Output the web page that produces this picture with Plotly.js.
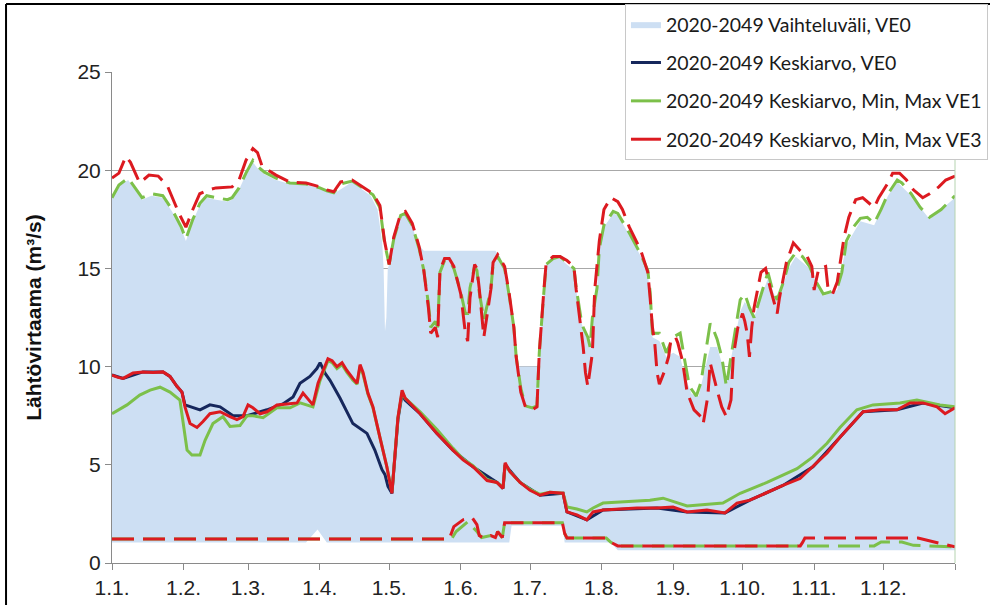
<!DOCTYPE html>
<html>
<head>
<meta charset="utf-8">
<script src="https://cdn.plot.ly/plotly-3.0.1.min.js"></script>
<style>
  html, body { margin: 0; padding: 0; background: #ffffff; }
  #chart { width: 990px; height: 605px; }
</style>
</head>
<body>
<div id="chart"></div>
<script>
// ---- Tick labels (day-of-year positions of month starts) ----
const monthDays = [0, 31, 59, 90, 120, 151, 181, 212, 243, 273, 304, 334, 365];
const monthLabels = ["1.1.", "1.2.", "1.3.", "1.4.", "1.5.", "1.6.", "1.7.", "1.8.", "1.9.", "1.10.", "1.11.", "1.12.", ""];

// ---- 2020-2049 Vaihteluväli, VE0 (range band) ----
const rangeUpperDays = [0,3,7,11,13,17,22,26,30,32,35,38,41,45,50,52,55,58,61,63,66,71,77,84,90,96,104,112,115,117,117.6,118.2,118.8,119.4,120,122,125,127,130,132,135,166,168,170,172,174,175,184,185,187,188,191,194,197,200,201,203,204,206,207,208,210,211,213,217,219,221,224,229,232,233,234,237,240,243,246,248,251,254,256,259,262,264,266,269,272,274,278,284,288,293,296,302,308,314,318,324,330,336,340,346,354,365];
const rangeUpper = [18.7,19.2,19.5,18.8,18.5,18.7,18.6,17.9,17.0,16.4,17.4,18.2,18.6,18.5,18.4,18.5,19.0,19.8,20.4,20.1,19.8,19.5,19.3,19.25,19.1,18.8,19.4,18.7,18.0,16.3,15.0,11.8,12.5,15.0,15.2,16.5,17.7,17.8,17.2,16.3,15.9,15.9,15.6,15.0,13.6,11.9,10.0,10.0,10.6,13.8,15.2,15.5,15.5,15.2,14.9,13.9,12.4,11.9,11.4,10.9,12.4,13.9,15.9,17.1,17.8,17.7,17.3,16.7,15.6,14.8,13.5,11.5,11.3,10.5,10.7,10.5,9.5,8.6,8.5,9.5,11.0,11.0,10.2,9.2,11.0,12.8,13.3,12.5,14.5,13.3,15.0,15.6,15.0,13.6,13.9,16.2,17.4,17.2,18.7,19.4,18.7,17.5,18.6];
const rangeLowerDays = [0,84,89,93,172,173,195,196,216,219,365];
const rangeLower = [1.05,1.05,1.7,1.05,1.05,1.9,1.9,1.05,1.05,0.65,0.65];

// ---- 2020-2049 Keskiarvo, VE0 ----
const ve0MeanDays = [0,4.8,13.4,22.1,25.1,28.1,30.3,31.6,38.1,42.4,46.8,52.4,58.5,67.1,74,78.4,81.4,85.7,88.7,90.1,92.3,94.4,98.7,104.3,110.4,113.8,116.9,118.2,119.5,121.2,123.8,125.6,126.9,133.4,140.7,147.6,156.3,166.7,169.3,170.2,176.7,185.3,195.3,197,205.6,212.6,236,249,265.4,276.2,290.5,303.5,315.2,325.2,339.9,351.1,365];
const ve0Mean = [9.57,9.4,9.73,9.73,9.5,9.0,8.7,8.05,7.8,8.05,7.95,7.5,7.5,7.8,8.1,8.45,9.15,9.5,9.9,10.2,9.65,9.3,8.4,7.1,6.6,5.75,4.75,4.5,3.9,3.55,7.3,8.6,8.3,7.6,6.6,5.75,4.9,4.1,3.8,5.0,4.1,3.45,3.55,2.6,2.2,2.7,2.8,2.6,2.55,3.2,3.95,4.9,6.4,7.7,7.8,8.15,7.9];

// ---- 2020-2049 Keskiarvo, Min, Max VE1 ----
const ve1MeanDays = [0,6.5,12,16.5,20.8,25.1,29.4,30.7,32.5,34.6,38.1,40.3,43.7,48,51.1,55.4,58.5,61,65.4,71.4,77.1,81.4,87,90.1,93.5,95.3,97.4,99.6,101.7,104.3,106.1,107.4,108.7,110.8,113,116,119,121.2,123.8,125.6,126.9,133.4,140.7,147.6,152,156.3,162.4,166.7,169.3,170.2,172.3,176.7,181,185.3,189.6,195.3,197,201.3,205.6,208.3,212.6,220,232.9,238.6,249,264.5,272,283.6,296.6,303.5,309.6,315.2,322.5,329.5,341.2,348.5,358.5,365];
const ve1Mean = [7.6,8.05,8.55,8.8,8.95,8.7,8.3,7.3,5.75,5.5,5.5,6.25,7.1,7.45,6.95,7.0,7.5,7.5,7.4,7.9,7.9,8.15,7.95,9.3,10.3,10.2,9.9,10.1,9.7,9.3,9.1,10.0,9.6,8.6,7.9,6.4,4.9,3.6,7.4,8.7,8.4,7.7,6.8,5.85,5.3,4.95,4.25,4.1,3.85,5.0,4.65,4.1,3.75,3.5,3.6,3.55,2.85,2.75,2.6,2.8,3.05,3.1,3.2,3.3,2.9,3.05,3.55,4.1,4.8,5.4,6.1,6.9,7.8,8.05,8.15,8.3,8.05,7.95];
const ve1MinDays = [0,147,149,154,158,160,164,166,167,169,170,195,196,197,214,216,219,330,333,342,347,365];
const ve1Min = [1.22,1.22,1.6,2.1,1.6,1.3,1.4,1.3,1.6,1.3,2.05,2.05,1.5,1.27,1.27,1.05,0.87,0.87,1.07,1.07,0.9,0.82];
const ve1MaxDays = [0,3,7,11,13,17,22,26,30,32,35,38,41,45,50,52,55,58,61,63,66,71,77,84,90,93,96,99,104,113,116,118,120,122,125,127,130,133,135,137,138,140,141,142,144,146,148,151,153,154,155,157,158,159,161,164,165,167,170,172,174,175,177,179,182,184,185,187,188,191,194,197,200,201,203,204,206,207,208,210,211,213,217,219,221,224,229,232,233,234,237,240,243,246,248,250,253,255,257,259,260,262,264,266,268,270,272,274,276,278,281,284,286,288,291,293,296,299,302,305,308,311,314,316,318,321,324,327,330,333,336,340,342,346,350,354,359,365];
const ve1Max = [18.6,19.25,19.6,18.9,18.6,18.8,18.7,18.0,17.1,16.5,17.5,18.3,18.7,18.6,18.5,18.6,19.1,19.85,20.5,20.2,19.9,19.6,19.35,19.3,19.1,18.95,18.85,19.3,19.45,18.75,18.1,16.3,15.2,16.5,17.7,17.8,17.2,16.0,14.9,13.2,12.0,12.3,12.0,14.8,15.4,15.4,15.0,13.8,12.7,12.7,14.0,15.1,14.9,13.8,12.4,13.9,15.2,15.6,15.0,13.6,12.0,10.5,8.9,8.0,7.9,8.0,10.7,13.8,15.2,15.5,15.6,15.3,15.0,14.0,12.5,12.0,11.5,11.0,12.5,14.0,16.0,17.2,17.9,17.8,17.4,16.8,15.7,14.9,13.8,11.7,11.7,10.7,11.5,11.7,10.3,9.0,8.5,9.2,10.7,12.2,12.0,11.4,10.5,9.0,10.5,12.0,13.4,13.7,13.0,12.5,13.7,14.8,13.9,13.4,14.4,15.3,15.8,15.6,15.1,14.3,13.7,13.8,14.0,14.8,16.4,17.1,17.55,17.6,17.3,18.0,18.8,19.5,19.35,18.8,18.1,17.6,18.0,18.7];

// ---- 2020-2049 Keskiarvo, Min, Max VE3 ----
const ve3MeanDays = [0,2.6,4.8,9.1,13.4,17.8,22.1,25.1,28.1,30.3,31.6,33.8,36.8,39.4,42.4,46.8,51.1,54.1,56.7,58.9,61,64.1,67.1,71.4,75.8,80.1,82.7,84.4,87,89.2,91.4,93.5,95.3,97.4,99.6,101.7,104.3,106.1,107.4,108.7,110.8,113,116,119,121.2,123.8,125.6,126.9,133.4,140.7,147.6,152,156.3,162.4,166.7,169.3,170.2,172.3,176.7,181,185.3,189.6,195.3,197,201.3,205.6,208.3,212.6,220,227.3,236,242.9,249,257.6,265.4,270.6,276.2,283.6,290.5,297.9,303.5,309.6,315.2,320.8,325.2,332.5,339.9,345.5,351.1,357.2,360.7,365];
const ve3Mean = [9.57,9.45,9.4,9.67,9.73,9.7,9.73,9.5,9.0,8.7,7.95,7.1,6.9,7.2,7.6,7.7,7.45,7.3,7.45,8.05,7.9,7.6,7.7,8.05,8.1,8.15,8.65,8.4,8.05,9.15,9.8,10.4,10.3,10.0,10.2,9.8,9.4,9.15,10.1,9.7,8.65,7.95,6.4,4.9,3.55,7.4,8.8,8.4,7.6,6.6,5.75,5.25,4.9,4.2,4.1,3.8,5.1,4.65,4.1,3.7,3.45,3.6,3.55,2.6,2.45,2.2,2.6,2.7,2.75,2.8,2.8,2.85,2.6,2.7,2.55,3.05,3.2,3.6,3.95,4.3,4.9,5.6,6.4,7.1,7.7,7.8,7.8,8.15,8.15,7.95,7.6,7.9];
const ve3MinDays = [0,146,148,152,156,158,159,161,164,166,167,169,170,195,196,197,214,216,219,298,299,300,349,365];
const ve3Min = [1.22,1.22,1.85,2.2,2.3,1.95,1.4,1.27,1.4,1.3,1.6,1.3,2.05,2.05,1.5,1.27,1.27,1.05,0.87,0.87,1.05,1.27,1.27,0.82];
const ve3MaxDays = [0,3,6,8,12,16,20,24,29,32,35,38,42,45,52,55,58,61,63,65,71,77,84,90,93,96,99,104,113,116,118,120,122,125,127,130,133,135,137,138,140,141,142,144,146,148,151,153,154,155,157,158,159,161,164,165,167,170,172,174,175,177,179,182,184,185,187,188,191,194,197,200,201,203,204,205,206,208,209,211,213,216,219,221,224,229,232,233,234,235,236,237,239,241,242,244,245,247,249,252,255,256,258,259,260,262,264,266,268,269,271,273,274,275,276,277,278,281,283,285,288,289,292,295,298,301,303,304,306,309,310,312,314,315,317,319,322,325,328,330,332,336,338,341,344,347,351,354,358,361,365];
const ve3Max = [19.6,19.85,20.7,20.4,19.35,19.75,19.7,19.2,17.8,17.1,18.0,18.8,19.0,19.1,19.15,19.5,20.5,21.1,20.9,20.2,19.75,19.4,19.35,19.15,19.0,18.9,19.4,19.5,18.8,18.2,16.4,15.2,16.6,17.8,17.9,17.3,16.1,14.9,13.0,11.7,12.0,11.5,14.9,15.5,15.5,15.1,13.7,11.7,11.3,13.5,15.2,15.0,14.0,11.5,13.9,15.3,15.7,15.1,13.7,12.0,10.5,8.7,7.95,7.8,7.95,10.7,13.9,15.3,15.6,15.6,15.4,15.1,13.9,12.0,11.0,9.7,9.0,10.7,13.9,16.4,18.0,18.6,18.4,18.0,17.1,15.9,14.8,13.5,12.0,11.2,9.7,9.1,9.7,10.5,11.4,11.5,11.2,10.3,8.7,7.8,7.45,7.1,8.5,10.2,9.7,8.8,7.95,7.45,8.3,10.5,12.0,12.7,12.3,11.7,10.5,12.0,13.0,14.8,15.0,14.0,12.7,13.5,15.3,16.3,15.9,15.6,15.1,13.9,15.0,15.1,14.0,13.7,14.3,15.1,16.6,17.6,18.5,18.6,18.3,18.1,18.6,19.35,19.85,19.85,19.5,19.0,18.6,18.8,19.15,19.5,19.7];

// ---- Names ----
const names = ["2020-2049 Vaihteluväli, VE0", "2020-2049 Keskiarvo, VE0", "2020-2049 Keskiarvo, Min, Max VE1", "2020-2049 Keskiarvo, Min, Max VE3"];

const cFill = "#cddff3", cNavy = "#16275c", cGreen = "#7cc04a", cRed = "#dc1a20";
const dashPat = "22px,9px";
const tickFont = {family: "Liberation Sans, Arial, sans-serif", size: 21, color: "#222222"};

const traces = [
  {
    x: rangeUpperDays.concat(rangeLowerDays.slice().reverse()),
    y: rangeUpper.concat(rangeLower.slice().reverse()),
    type: "scatter", mode: "lines", fill: "toself", fillcolor: cFill,
    line: {width: 0, color: cFill}, name: names[0], legendgroup: "g0", hoverinfo: "skip"
  },
  {x: ve0MeanDays, y: ve0Mean, type: "scatter", mode: "lines", name: names[1], legendgroup: "g1",
   line: {color: cNavy, width: 3}},
  {x: ve1MeanDays, y: ve1Mean, type: "scatter", mode: "lines", name: names[2], legendgroup: "g2",
   line: {color: cGreen, width: 3}},
  {x: ve1MinDays, y: ve1Min, type: "scatter", mode: "lines", name: names[2], legendgroup: "g2", showlegend: false,
   line: {color: cGreen, width: 3, dash: dashPat}},
  {x: ve1MaxDays, y: ve1Max, type: "scatter", mode: "lines", name: names[2], legendgroup: "g2", showlegend: false,
   line: {color: cGreen, width: 3, dash: dashPat}},
  {x: ve3MeanDays, y: ve3Mean, type: "scatter", mode: "lines", name: names[3], legendgroup: "g3",
   line: {color: cRed, width: 3}},
  {x: ve3MinDays, y: ve3Min, type: "scatter", mode: "lines", name: names[3], legendgroup: "g3", showlegend: false,
   line: {color: cRed, width: 3, dash: dashPat}},
  {x: ve3MaxDays, y: ve3Max, type: "scatter", mode: "lines", name: names[3], legendgroup: "g3", showlegend: false,
   line: {color: cRed, width: 3, dash: dashPat}}
];

const layout = {
  width: 990, height: 605,
  margin: {l: 112, r: 35, t: 72, b: 42, autoexpand: false},
  paper_bgcolor: "#ffffff", plot_bgcolor: "#ffffff",
  font: {family: "Liberation Sans, Arial, sans-serif", color: "#222222", size: 18},
  showlegend: true,
  legend: {
    x: 0.6085, xanchor: "left", y: 1.1385, yanchor: "top",
    bgcolor: "#ffffff", bordercolor: "#c8c8c8", borderwidth: 1,
    font: {family: "Lato, sans-serif", size: 19.5, color: "#1a1a1a"},
    traceorder: "grouped", tracegroupgap: 10
  },
  xaxis: {
    range: [0, 365], tickmode: "array", tickvals: monthDays, ticktext: monthLabels,
    showgrid: false, zeroline: false, showline: true, linecolor: "#8a8a8a", linewidth: 1,
    ticks: "outside", ticklen: 6, tickcolor: "#8a8a8a",
    tickfont: tickFont
  },
  yaxis: {
    range: [0, 25], tickvals: [0, 5, 10, 15, 20, 25],
    showgrid: true, gridcolor: "#a8a8a8", gridwidth: 1, zeroline: false,
    showline: true, linecolor: "#8a8a8a", linewidth: 1,
    ticks: "outside", ticklen: 6, tickcolor: "#8a8a8a",
    tickfont: tickFont,
    title: {text: "Lähtövirtaama (m³/s)", standoff: 30,
            font: {family: "Liberation Sans, Arial, sans-serif", size: 21, color: "#111111", weight: "bold"}}
  },
  shapes: [
    {type: "line", xref: "paper", yref: "paper", x0: -0.1257, x1: -0.1257, y0: 1.1385, y1: -0.09, line: {color: "#000000", width: 2}},
    {type: "line", xref: "paper", yref: "paper", x0: -0.1257, x1: 1.05, y0: 1.1385, y1: 1.1385, line: {color: "#000000", width: 2}},
    {type: "line", xref: "paper", yref: "paper", x0: 1, x1: 1, y0: 0, y1: 1, line: {color: "#b5d3b0", width: 1}}
  ]
};

Plotly.newPlot("chart", traces, layout, {staticPlot: true, displayModeBar: false});
</script>
</body>
</html>
